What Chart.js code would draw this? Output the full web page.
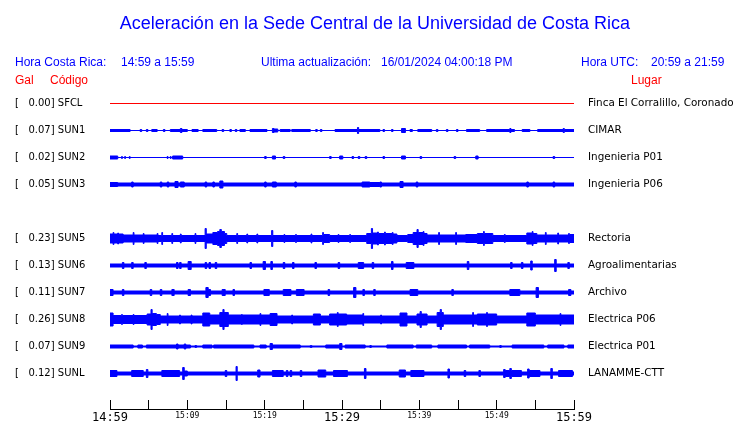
<!DOCTYPE html>
<html>
<head>
<meta charset="utf-8">
<script src="https://cdn.jsdelivr.net/npm/chart.js@4.4.1/dist/chart.umd.min.js"></script>
<style>
  body { margin: 0; background: #fff; }
  #wrap { position: relative; width: 740px; height: 423px; }
  .t { position: absolute; font-family: "Liberation Sans", Arial, sans-serif; font-size: 12px; line-height: 1; white-space: pre; color: #0000ff; }
  .red { color: #ff0000; }
</style>
</head>
<body>
<div id="wrap">
  <canvas id="myChart" width="740" height="423"></canvas>
  <div class="t" style="left:0;width:750px;text-align:center;top:14px;font-size:18px">Aceleración en la Sede Central de la Universidad de Costa Rica</div>
  <div class="t" style="left:15px;top:55.5px">Hora Costa Rica:</div>
  <div class="t" style="left:121px;top:55.5px">14:59 a 15:59</div>
  <div class="t" style="left:261px;top:55.5px">Ultima actualización:</div>
  <div class="t" style="left:381px;top:55.5px">16/01/2024 04:00:18 PM</div>
  <div class="t" style="left:581px;top:55.5px">Hora UTC:</div>
  <div class="t" style="left:651px;top:55.5px">20:59 a 21:59</div>
  <div class="t red" style="left:15px;top:74px">Gal</div>
  <div class="t red" style="left:50px;top:74px">Código</div>
  <div class="t red" style="left:631px;top:74px">Lugar</div>
</div>
<script>
// stations, peak acceleration (Gal) and place names
const codes = ["SFCL", "SUN1", "SUN2", "SUN3", "SUN5", "SUN6", "SUN7", "SUN8", "SUN9", "SUNL"];
const gal = [0.00, 0.07, 0.02, 0.05, 0.23, 0.13, 0.11, 0.26, 0.07, 0.12];
const places = ["Finca El Corralillo, Coronado", "CIMAR", "Ingenieria P01", "Ingenieria P06",
  "Rectoria", "Agroalimentarias", "Archivo", "Electrica P06", "Electrica P01", "LANAMME-CTT"];

// time axis labels (every 10 minutes)
const timeLabels = ["14:59", "15:09", "15:19", "15:29", "15:39", "15:49", "15:59"];

// trace envelopes: [minute, half amplitude], each level holds until the next point
const sfcl = [[0, 0], [60, 0]];
const sun1 = [[0, 1], [2.6, 0], [3.9, 1], [4.1, 0], [4.7, 1], [4.9, 0], [5.4, 1], [6.1, 0], [6.9, 1], [7.1, 0],
  [7.8, 1], [9.1, 2], [9.3, 1], [10.0, 0], [10.6, 1], [11.4, 0], [12.0, 1], [13.8, 0], [14.5, 1], [14.7, 0],
  [15.5, 1], [15.7, 0], [16.2, 1], [16.4, 0], [16.8, 1], [17.5, 0], [18.1, 1], [20.3, 0], [21.0, 2], [21.2, 1.5], [21.7, 0],
  [22.0, 1], [23.3, 0], [23.5, 1], [25.9, 0], [26.6, 1], [26.8, 0], [27.2, 1], [27.4, 0], [29.1, 1], [32.0, 3],
  [32.15, 1], [34.9, 0], [35.3, 1], [35.5, 0], [36.4, 1], [36.6, 0], [37.7, 2], [38.2, 0], [38.8, 1], [39.1, 0],
  [39.8, 1], [41.6, 0], [42.2, 1], [42.4, 0], [43.5, 1], [43.7, 0], [44.8, 1], [45.0, 0], [46.1, 1], [47.8, 0],
  [48.7, 1], [51.7, 2], [51.85, 1], [52.3, 0], [53.3, 1], [54.3, 0], [55.3, 1], [58.6, 2], [58.75, 1], [60, 1]];
const sun2 = [[0, 1.5], [1.0, 0], [1.5, 1], [1.6, 0], [1.9, 1], [2.0, 0], [2.5, 1], [2.6, 0], [7.4, 1], [7.5, 0],
  [7.8, 1], [7.9, 0], [8.1, 1.5], [9.4, 0], [20.0, 1], [20.2, 0], [21.0, 1.5], [21.4, 0], [22.4, 1], [22.6, 0],
  [28.4, 1], [28.6, 0], [29.7, 1.5], [30.1, 0], [31.3, 1], [31.5, 0], [32.1, 1], [32.3, 0], [33.0, 1], [33.2, 0],
  [35.3, 1], [35.5, 0], [37.7, 1.5], [38.2, 0], [40.1, 1], [40.3, 0], [44.5, 1], [44.7, 0], [47.3, 1.5], [47.6, 0],
  [57.3, 1], [57.5, 0], [60, 0]];
const sun3 = [[0, 2], [1.0, 1.5], [2.8, 2.5], [3.0, 1.5], [6.5, 2.5], [6.7, 1.5], [7.4, 2.5], [7.6, 1.5], [8.4, 3],
  [8.8, 1.5], [9.1, 2.5], [9.6, 1.5], [12.3, 2.5], [12.5, 1.5], [13.3, 2.5], [13.5, 1.5], [14.2, 3.5], [14.6, 1.5],
  [20.0, 2.5], [20.2, 1.5], [21.0, 2.5], [21.5, 1.5], [23.9, 2.5], [24.1, 1.5], [32.6, 2.5], [33.6, 2], [34.9, 2.5],
  [35.1, 1.5], [37.5, 3], [37.9, 1.5], [39.6, 2.5], [39.8, 1.5], [53.9, 2.5], [54.1, 1.5], [57.3, 2.5], [57.5, 1.5],
  [60, 1.5]];
const sun5 = [[0, 4.5], [0.4, 6], [0.5, 4.5], [1.0, 5.5], [1.1, 4.5], [1.7, 3.5], [3.0, 6], [3.1, 3.5], [4.3, 5],
  [4.4, 3.5], [6.1, 5], [6.2, 3], [6.7, 6], [6.8, 3], [8.0, 5], [8.1, 3], [9.1, 4.5], [9.2, 3], [11.0, 5], [11.1, 3],
  [12.3, 10], [12.45, 4.5], [13.3, 6], [13.9, 7], [14.2, 9], [14.4, 7], [14.8, 5], [15.1, 3], [16.4, 5], [16.5, 3],
  [17.7, 4.5], [17.8, 3], [19.0, 4.5], [19.1, 3], [20.9, 8], [21.05, 3], [22.5, 4], [22.6, 3], [24.0, 4], [24.1, 3],
  [26.0, 4.5], [26.1, 3], [27.5, 6], [27.6, 4], [28.4, 3], [29.5, 4], [29.6, 3], [31.0, 4], [31.1, 3], [33.2, 5],
  [33.8, 10], [33.95, 5.5], [34.6, 6.5], [34.7, 5], [35.5, 6.5], [35.6, 5], [36.5, 6], [36.6, 4.5], [37.1, 3],
  [38.5, 4], [39.2, 6], [39.7, 9], [39.85, 6], [40.5, 7], [40.6, 5], [41.0, 3.5], [42.5, 6], [42.6, 3.5], [44.7, 6],
  [44.8, 3.5], [46.0, 4], [47.5, 5], [48.3, 7], [48.4, 5], [49.5, 3], [51.0, 4], [51.1, 3], [53.9, 5.5], [54.6, 7],
  [54.7, 5], [55.2, 3.5], [56.3, 6], [56.4, 3.5], [57.9, 5.5], [58.0, 3.5], [59.3, 5], [59.4, 4], [60, 4]];
const sun6 = [[0, 1.5], [1.6, 3], [1.8, 1.5], [2.8, 3], [3.0, 1.5], [4.5, 3], [4.7, 1.5], [8.6, 3], [8.8, 1.5],
  [9.0, 3], [9.2, 1.5], [10.1, 4], [10.5, 1.5], [12.3, 3], [12.5, 1.5], [12.8, 3], [13.0, 1.5], [13.6, 3], [13.8, 1.5],
  [18.1, 3], [18.3, 1.5], [19.8, 4], [20.1, 1.5], [20.8, 4], [21.0, 1.5], [22.4, 3], [22.6, 1.5], [23.6, 3],
  [23.8, 1.5], [26.5, 3], [26.7, 1.5], [29.5, 3], [29.7, 1.5], [32.1, 3], [32.8, 1.5], [33.9, 3], [34.1, 1.5],
  [36.4, 4], [36.6, 1.5], [38.3, 3], [39.3, 1.5], [46.2, 4], [46.4, 1.5], [51.8, 3], [52.0, 1.5], [53.2, 3],
  [53.4, 1.5], [54.4, 4.5], [54.6, 1.5], [57.5, 6], [57.7, 1.5], [59.2, 3], [59.4, 1.5], [60, 1.5]];
const sun7 = [[0, 3], [0.4, 1.5], [1.6, 3], [1.8, 1.5], [5.2, 3], [5.4, 1.5], [6.5, 3], [6.7, 1.5], [8.0, 3],
  [8.3, 1.5], [10.1, 3], [10.4, 1.5], [12.4, 5], [12.7, 3], [13.0, 1.5], [14.5, 3], [14.9, 1.5], [15.9, 3], [16.1, 1.5],
  [19.9, 3], [20.6, 1.5], [22.4, 3], [23.4, 1.5], [24.1, 3], [25.1, 1.5], [28.2, 3], [28.4, 1.5], [31.5, 5],
  [31.8, 1.5], [32.7, 3], [32.9, 1.5], [34.1, 3], [34.3, 1.5], [38.8, 3], [39.8, 1.5], [44.2, 3], [44.4, 1.5],
  [51.7, 3], [53.0, 1.5], [55.1, 5], [55.4, 1.5], [59.3, 3], [59.6, 1.5], [60, 1.5]];
const sun8 = [[0, 6.5], [0.4, 4], [1.5, 5], [1.6, 4], [3.0, 5], [3.1, 4], [4.8, 5.5], [5.3, 10], [5.45, 6], [6.0, 5],
  [6.5, 3.5], [7.4, 6], [7.5, 3.5], [9.0, 4.5], [9.1, 3.5], [10.5, 4.5], [10.6, 3.5], [12.0, 6.5], [12.9, 4.5],
  [14.2, 7], [14.6, 10], [14.75, 7], [15.3, 4.5], [17.0, 5], [17.1, 4.5], [19.4, 6], [19.5, 4.5], [20.7, 6],
  [21.6, 3.5], [23.5, 4.5], [23.6, 3.5], [26.3, 5.5], [27.2, 3.5], [28.4, 5.5], [29.4, 7], [29.5, 5.5], [30.6, 4.5],
  [32.7, 6], [32.8, 3.5], [35.0, 4.5], [35.1, 3.5], [37.5, 6.5], [38.4, 3.5], [39.7, 5.5], [40.1, 8], [40.25, 5.5],
  [41.0, 3.5], [42.3, 7], [42.7, 10], [42.85, 7], [43.1, 4.5], [46.9, 7], [47.0, 4.5], [47.5, 5.5], [48.7, 7],
  [48.8, 5.5], [50.0, 3.5], [53.9, 6.5], [55.0, 4.5], [58.2, 6], [58.3, 4.5], [60, 4.5]];
const sun9 = [[0, 1.5], [3.0, 0.5], [3.6, 1.5], [4.2, 0.5], [4.7, 1.5], [8.6, 2.5], [8.8, 1.5], [9.6, 2.5], [9.8, 1.5],
  [10.4, 0.5], [11.0, 1], [11.2, 0.5], [12.0, 1.5], [13.2, 0.5], [13.4, 1.5], [18.6, 0.5], [19.4, 1.5], [20.2, 0.5],
  [20.7, 3], [21.0, 1.5], [24.6, 0.5], [25.9, 1], [26.1, 0.5], [27.9, 1.5], [29.7, 3], [30.0, 0.5], [30.4, 1.5],
  [33.0, 0.5], [33.6, 1], [33.8, 0.5], [35.8, 1.5], [39.2, 0.5], [39.6, 1.5], [41.6, 0.5], [42.4, 1.5], [46.1, 0.5],
  [46.5, 1.5], [49.1, 0.5], [50.4, 1], [50.6, 0.5], [52.0, 1.5], [56.1, 0.5], [56.6, 1.5], [58.7, 0.5], [59.2, 1.5],
  [60, 1.5]];
const sunl = [[0, 3], [0.9, 1.5], [2.8, 3], [4.3, 1.5], [4.7, 4], [4.9, 1.5], [6.7, 3], [9.0, 1.5], [9.4, 6], [9.6, 2.5],
  [10.0, 1.5], [14.9, 3], [15.1, 1.5], [16.3, 7], [16.45, 1.5], [19.1, 3.5], [19.4, 1.5], [21.0, 3], [22.4, 1.5],
  [22.8, 3], [23.0, 1.5], [23.3, 3], [23.5, 1.5], [24.6, 3], [24.8, 1.5], [26.9, 3.5], [27.9, 1.5], [28.9, 3],
  [30.7, 1.5], [32.9, 5], [33.1, 1.5], [37.4, 3.5], [38.2, 1.5], [38.9, 3], [40.6, 1.5], [43.7, 4.5], [43.9, 1.5],
  [45.8, 3], [46.0, 1.5], [47.7, 3], [47.9, 1.5], [50.9, 4], [51.1, 3], [51.7, 5], [51.9, 3], [53.2, 1.5], [54.0, 4.5],
  [54.2, 3], [55.6, 1.5], [57.0, 5], [57.2, 1.5], [58.0, 3], [59.8, 1.5], [60, 1.5]];

const envelopes = [sfcl, sun1, sun2, sun3, sun5, sun6, sun7, sun8, sun9, sunl];

// row of each trace (row 4 is left empty), rows are 27 units apart
const rowOf = [0, 1, 2, 3, 5, 6, 7, 8, 9, 10];
const ROW = 27;

const leftLabels = codes.map((c, i) => "[   " + gal[i].toFixed(2) + "] " + c);

const datasets = [];
for (let i = 0; i < codes.length; i++) {
  const c = -rowOf[i] * ROW;
  const color = i === 0 ? "#ff0000" : "#0000ff";
  const common = { borderColor: color, backgroundColor: color, borderWidth: 1, pointRadius: 0, stepped: true };
  datasets.push({ ...common, fill: false, data: envelopes[i].map(p => ({ x: p[0], y: c + p[1] })) });
  datasets.push({ ...common, fill: "-1", data: envelopes[i].map(p => ({ x: p[0], y: c - p[1] })) });
}

const rowTicks = axis => { axis.ticks = rowOf.map(r => ({ value: -r * ROW })); };

// horizontal line under the x tick marks
const axisLine = {
  id: "axisLine",
  afterDraw(chart) {
    const s = chart.scales.x;
    const y = Math.round(s.top + s.options.grid.tickLength) + 0.5;
    const ctx = chart.ctx;
    ctx.save();
    ctx.strokeStyle = "#000";
    ctx.lineWidth = 1;
    ctx.beginPath();
    ctx.moveTo(s.left, y);
    ctx.lineTo(s.right + 1, y);
    ctx.stroke();
    ctx.restore();
  }
};

new Chart(document.getElementById("myChart"), {
  type: "line",
  data: { datasets: datasets },
  plugins: [axisLine],
  options: {
    responsive: false,
    animation: false,
    layout: { padding: { top: 90, left: 15, right: 0, bottom: 0 } },
    plugins: { legend: { display: false }, tooltip: { enabled: false } },
    scales: {
      x: {
        type: "linear", min: 0, max: 60,
        grid: { drawOnChartArea: false, tickLength: 9, color: "#000" },
        border: { display: false },
        ticks: {
          stepSize: 5, autoSkip: false, maxRotation: 0, padding: 2, color: "#000",
          callback: v => (v % 10 === 0 ? timeLabels[v / 10] : ""),
          font: ctx => (ctx.tick && ctx.tick.value % 30 === 0)
            ? { family: "DejaVu Sans Mono", size: 12 }
            : { family: "DejaVu Sans Mono", size: 8 }
        },
        afterFit: s => { s.height = 23; }
      },
      y: {
        type: "linear", position: "left", min: -296.5, max: 13.5,
        afterBuildTicks: rowTicks,
        grid: { display: false, drawTicks: false },
        border: { display: false },
        ticks: {
          autoSkip: false, crossAlign: "far", padding: 0, color: "#000",
          font: { family: "DejaVu Sans", size: 10 },
          callback: (v, i) => leftLabels[i]
        },
        afterFit: s => { s.width = 95; }
      },
      y2: {
        type: "linear", position: "right", min: -296.5, max: 13.5,
        afterBuildTicks: rowTicks,
        grid: { display: false, drawTicks: false },
        border: { display: false },
        ticks: {
          autoSkip: false, crossAlign: "near", padding: 14, color: "#000",
          font: { family: "DejaVu Sans", size: 10.4 },
          callback: (v, i) => places[i]
        },
        afterFit: s => { s.width = 166; }
      }
    }
  }
});
</script>
</body>
</html>
